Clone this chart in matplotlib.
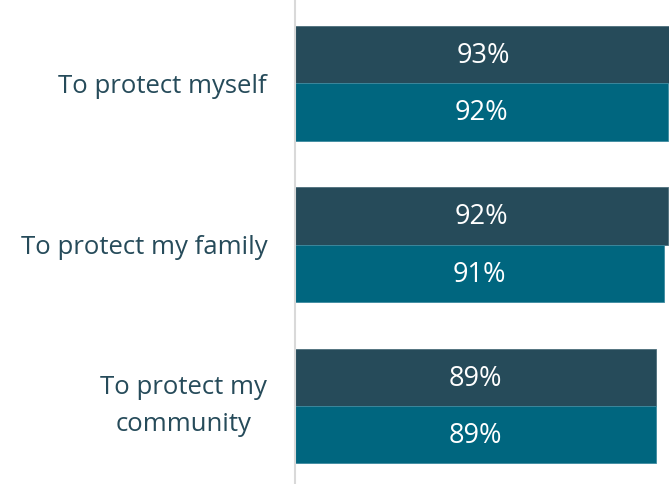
import matplotlib
matplotlib.use('Agg')
from matplotlib import pyplot as plt
import numpy as np

categories = ['To protect myself', 'To protect my family', 'To protect my\ncommunity']
series_a = [93, 92, 89]
series_b = [92, 91, 89]

dark = '#264b5a'
teal = '#00667f'

plt.rcParams['font.family'] = ['Open Sans', 'DejaVu Sans']

fig = plt.figure(figsize=(6.69, 4.84), dpi=100)
ax = fig.add_axes([295 / 669, 0, 1 - 295 / 669, 1])

y = np.arange(len(categories))
h = 0.356
ax.barh(y - h / 2, series_a, height=h, color=dark, edgecolor='#4d6f7c', linewidth=0.6)
ax.barh(y + h / 2, series_b, height=h, color=teal, edgecolor='#3d8aa0', linewidth=0.6)

for i in range(len(categories)):
    ax.text(series_a[i] / 2, y[i] - h / 2 + 0.01, '%d%%' % series_a[i], color='white',
            ha='center', va='center', fontsize=19.5)
    ax.text(series_b[i] / 2, y[i] + h / 2 + 0.01, '%d%%' % series_b[i], color='white',
            ha='center', va='center', fontsize=19.5)

ax.set_xlim(0, 92.2)
ax.set_ylim(2.483, -0.514)
ax.set_yticks(y)
labels = ax.set_yticklabels(categories, fontsize=18.5, color=dark, multialignment='center',
                            linespacing=1.6)
labels[2].set_verticalalignment('center')
ax.tick_params(axis='y', length=0, pad=20)
ax.set_xticks([])

for s in ['top', 'right', 'bottom']:
    ax.spines[s].set_visible(False)
ax.spines['left'].set_color('#d9d9d9')
ax.spines['left'].set_linewidth(1.5)

fig.savefig('out.png', dpi=100)
